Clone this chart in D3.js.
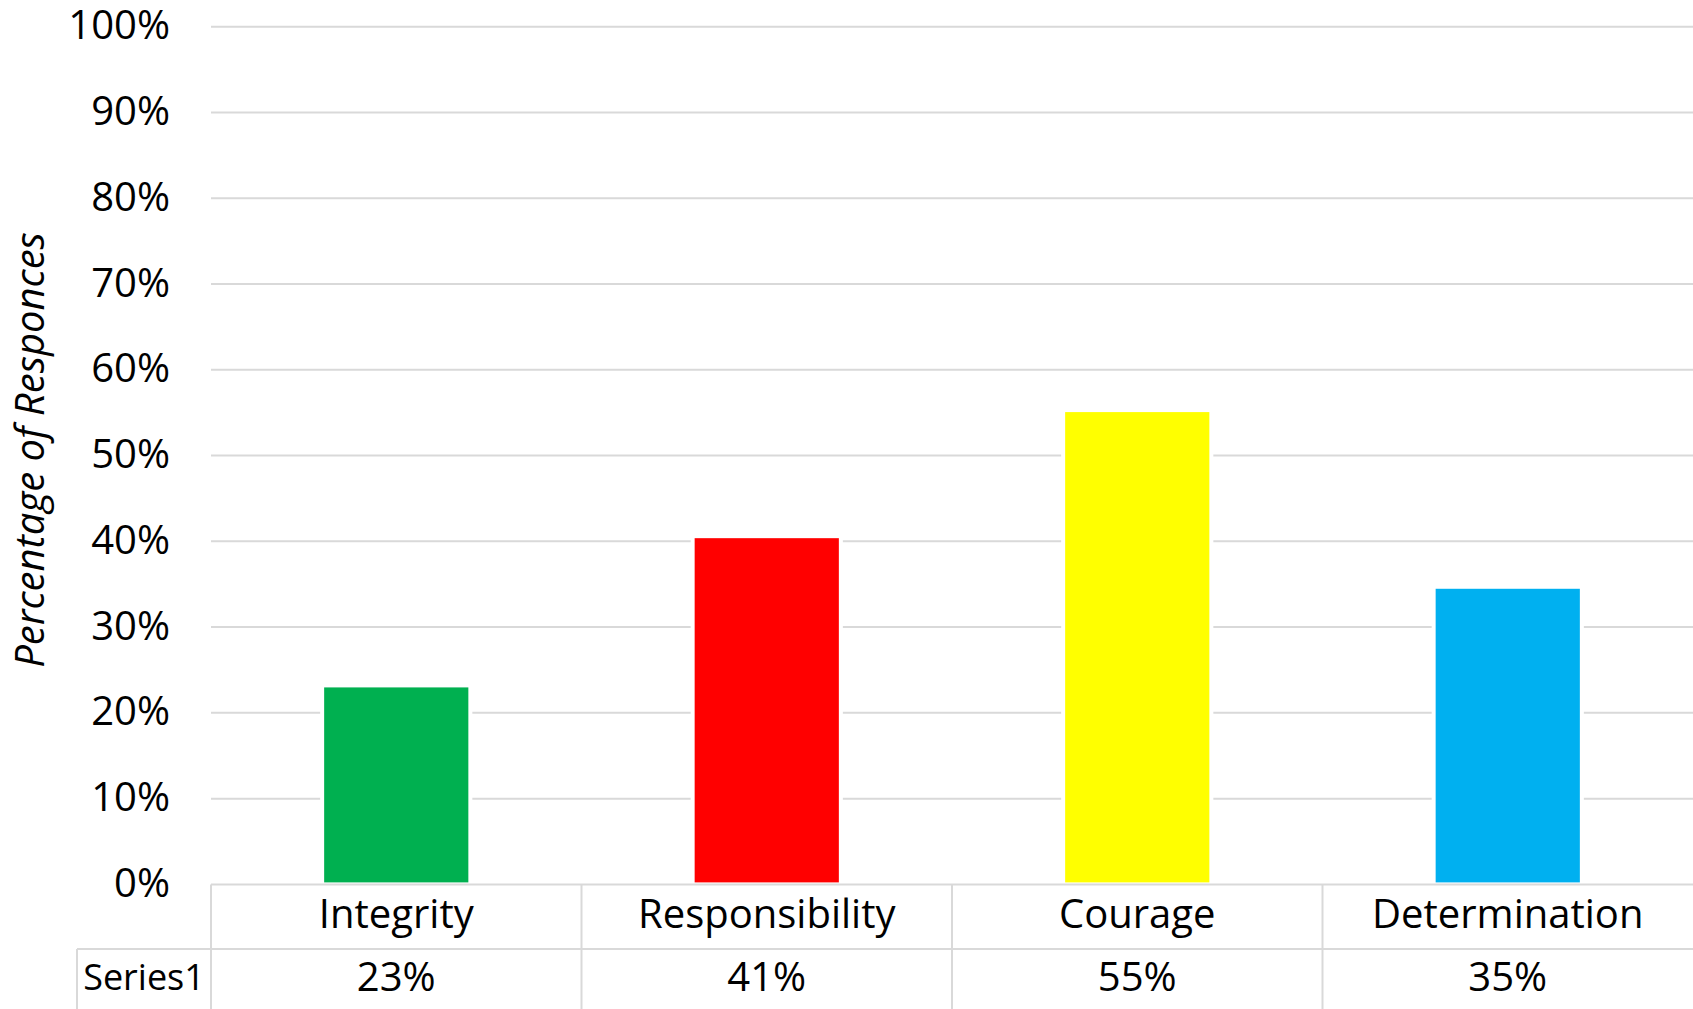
<!DOCTYPE html>
<html>
<head>
<meta charset="utf-8">
<script src="https://cdn.jsdelivr.net/npm/d3@7"></script>
<style>
    body { margin: 0; background: #fff; }
    text { font-family: "Open Sans", sans-serif; fill: #000; }
</style>
</head>
<body>
<div id="chart"></div>
<script>
// chart data
var categories = ["Integrity", "Responsibility", "Courage", "Determination"];
var values = [0.232, 0.406, 0.553, 0.347];
var barColors = ["#00B050", "#FF0000", "#FFFF00", "#00B0F0"];
var seriesName = "Series1";
var yTicks = [0, 0.1, 0.2, 0.3, 0.4, 0.5, 0.6, 0.7, 0.8, 0.9, 1];
var yTitle = "Percentage of Responces";

var svgWidth = 1693;
var svgHeight = 1009;

var plot = { left: 211, right: 1693, top: 26.7, bottom: 884.4 };
var tableRow = 949;   // line between category row and value row
var tableLeft = 77;   // left edge of the series name cell
var gridColor = "#d9d9d9";
var fontSize = 40;

var svg = d3.select("#chart")
    .append("svg")
    .attr("width", svgWidth)
    .attr("height", svgHeight);

svg.append("rect")
    .attr("width", svgWidth)
    .attr("height", svgHeight)
    .attr("fill", "#fff");

var yScale = d3.scaleLinear()
    .domain([0, 1])
    .range([plot.bottom, plot.top]);

var xScale = d3.scaleBand()
    .domain(categories)
    .range([plot.left, plot.right])
    .paddingInner(0.6)
    .paddingOuter(0.3);

// gridlines
svg.append("g")
    .selectAll("line")
    .data(yTicks.slice(1))
    .enter()
    .append("line")
    .attr("x1", plot.left)
    .attr("x2", plot.right)
    .attr("y1", d => yScale(d))
    .attr("y2", d => yScale(d))
    .attr("stroke", gridColor)
    .attr("stroke-width", 2);

// y axis labels
var leftAxis = d3.axisLeft(yScale)
    .tickValues(yTicks)
    .tickFormat(d3.format(".0%"))
    .tickSize(0)
    .tickPadding(41);

var yAxis = svg.append("g")
    .attr("transform", `translate(${plot.left}, 0)`)
    .call(leftAxis);

yAxis.select(".domain").remove();
yAxis.selectAll("text")
    .attr("font-size", fontSize)
    .attr("font-family", "'Open Sans', sans-serif")
    .attr("dy", "0.3em");

// bars (white outline like the original)
svg.append("g")
    .selectAll("rect")
    .data(values)
    .enter()
    .append("rect")
    .attr("x", (d, i) => xScale(categories[i]))
    .attr("width", xScale.bandwidth())
    .attr("y", d => yScale(d))
    .attr("height", d => plot.bottom - yScale(d))
    .attr("fill", (d, i) => barColors[i])
    .attr("stroke", "#fff")
    .attr("stroke-width", 4);

// data table lines
var table = svg.append("g")
    .attr("stroke", gridColor)
    .attr("stroke-width", 2);

table.append("line")
    .attr("x1", plot.left).attr("x2", plot.right)
    .attr("y1", plot.bottom).attr("y2", plot.bottom);

table.append("line")
    .attr("x1", tableLeft).attr("x2", plot.right)
    .attr("y1", tableRow).attr("y2", tableRow);

table.append("line")
    .attr("x1", tableLeft).attr("x2", tableLeft)
    .attr("y1", tableRow).attr("y2", svgHeight);

table.selectAll(".colLine")
    .data(categories)
    .enter()
    .append("line")
    .classed("colLine", true)
    .attr("x1", d => xScale(d) - xScale.bandwidth() * 0.75)
    .attr("x2", d => xScale(d) - xScale.bandwidth() * 0.75)
    .attr("y1", plot.bottom)
    .attr("y2", svgHeight);

// category labels
svg.append("g")
    .selectAll("text")
    .data(categories)
    .enter()
    .append("text")
    .attr("x", d => xScale(d) + xScale.bandwidth() / 2)
    .attr("y", (plot.bottom + tableRow) / 2)
    .attr("dy", "0.28em")
    .attr("text-anchor", "middle")
    .attr("font-size", fontSize)
    .text(d => d);

// value row
svg.append("g")
    .selectAll("text")
    .data(values)
    .enter()
    .append("text")
    .attr("x", (d, i) => xScale(categories[i]) + xScale.bandwidth() / 2)
    .attr("y", (tableRow + svgHeight) / 2)
    .attr("dy", "0.3em")
    .attr("text-anchor", "middle")
    .attr("font-size", fontSize)
    .text(d => d3.format(".0%")(d));

svg.append("text")
    .attr("x", (tableLeft + plot.left) / 2)
    .attr("y", (tableRow + svgHeight) / 2)
    .attr("dy", "0.3em")
    .attr("text-anchor", "middle")
    .attr("font-size", 36)
    .text(seriesName);

// y axis title
svg.append("text")
    .attr("transform", "translate(44, 450) rotate(-90)")
    .attr("text-anchor", "middle")
    .attr("font-size", fontSize)
    .attr("font-style", "italic")
    .text(yTitle);
</script>
</body>
</html>
